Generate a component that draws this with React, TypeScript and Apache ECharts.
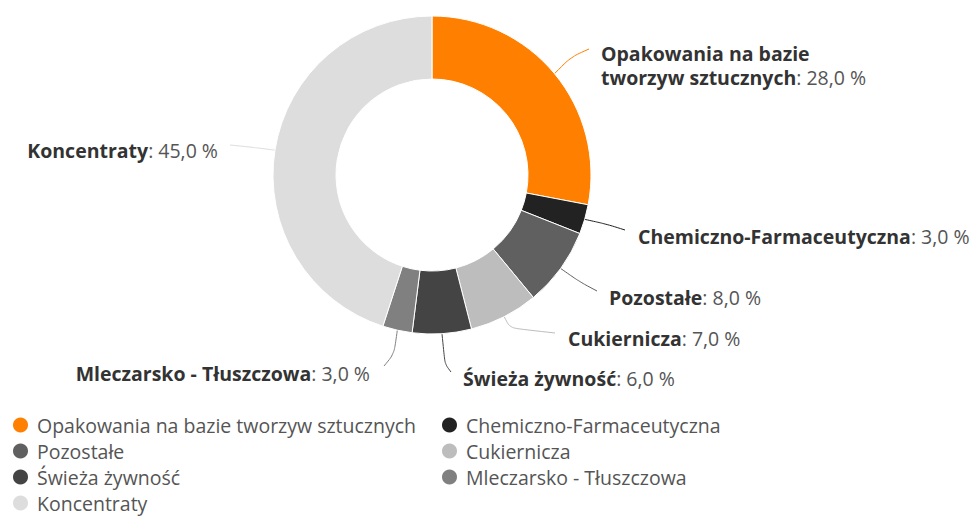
import React, { useEffect, useRef } from "react";
import * as echarts from "echarts";

const categories = [
  "Opakowania na bazie tworzyw sztucznych",
  "Chemiczno-Farmaceutyczna",
  "Pozostałe",
  "Cukiernicza",
  "Świeża żywność",
  "Mleczarsko - Tłuszczowa",
  "Koncentraty",
];
const values = [28, 3, 8, 7, 6, 3, 45];
const colors = ["#ff7f00", "#222222", "#606060", "#bdbdbd", "#444444", "#808080", "#dddddd"];
const legendLeftColumn = [0, 2, 4, 6];
const legendRightColumn = [1, 3, 5];

// label placement (text anchor + connector bend/end), pixel layout
const labelPlacement = [
  { x: 601, y: 41, align: "left", va: "top", mid: [571, 57], end: [589, 49] },
  { x: 638, y: 236, align: "left", va: "middle", mid: [606, 224], end: [625, 230] },
  { x: 609, y: 297, align: "left", va: "middle", mid: [580, 282], end: [597, 291] },
  { x: 568, y: 338, align: "left", va: "middle", mid: [510, 328], end: [555, 333] },
  { x: 463, y: 378, align: "left", va: "middle", mid: [445, 364], end: [451, 372] },
  { x: 370, y: 373, align: "right", va: "middle", mid: [394, 354], end: [384, 366] },
  { x: 218, y: 150, align: "right", va: "middle", mid: [250, 147], end: [230, 145] },
];

const fmt = (v: number) => v.toFixed(1).replace(".", ",") + " %";
const wrapName = (n: string) => n.replace("bazie ", "bazie\n");

export default function App() {
  const ref = useRef<HTMLDivElement>(null);
  useEffect(() => {
    if (!ref.current) return;
    const chart = echarts.init(ref.current, undefined, { renderer: "svg" });
    const font = "'Open Sans', 'Noto Sans', sans-serif";
    const fs = 19.5;
    const legendBase = {
      orient: "vertical",
      top: 415,
      height: 110,
      padding: 0,
      icon: "circle",
      itemWidth: 17,
      itemHeight: 17,
      itemGap: 6,
      textStyle: {
        fontFamily: font,
        fontSize: fs,
        color: "#555",
        lineHeight: 18,
        padding: [0, 0, 0, 3],
      },
    };
    chart.setOption({
      animation: false,
      color: colors,
      legend: [
        { ...legendBase, left: 11, data: legendLeftColumn.map((i) => categories[i]) },
        { ...legendBase, left: 440, data: legendRightColumn.map((i) => categories[i]) },
      ],
      series: [
        {
          type: "pie",
          center: [432, 175],
          radius: [96, 159],
          startAngle: 90,
          clockwise: true,
          avoidLabelOverlap: false,
          itemStyle: { borderColor: "#fff", borderWidth: 1 },
          label: {
            show: true,
            position: "outside",
            fontFamily: font,
            fontSize: fs,
            formatter: (p: any) => `{n|${wrapName(p.name)}}{v|: ${fmt(p.value)}}`,
            rich: {
              n: { fontFamily: font, fontSize: fs, fontWeight: "bold", color: "#333", lineHeight: 24 },
              v: { fontFamily: font, fontSize: fs, color: "#555", lineHeight: 24 },
            },
          },
          labelLine: { show: true, smooth: 0.3, length: 20, length2: 10, lineStyle: { width: 1 } },
          labelLayout: (params: any) => {
            const pl = labelPlacement[params.dataIndex];
            const start = params.labelLinePoints ? params.labelLinePoints[0] : pl.mid;
            return {
              x: pl.x,
              y: pl.y,
              align: pl.align,
              verticalAlign: pl.va,
              labelLinePoints: [start, pl.mid, pl.end],
            };
          },
          emphasis: { disabled: true },
          data: categories.map((name, i) => ({ name, value: values[i] })),
        },
      ],
    });
    return () => chart.dispose();
  }, []);
  return (
    <div
      ref={ref}
      style={{ position: "fixed", left: 0, top: 0, width: 974, height: 518, background: "#fff" }}
    />
  );
}
